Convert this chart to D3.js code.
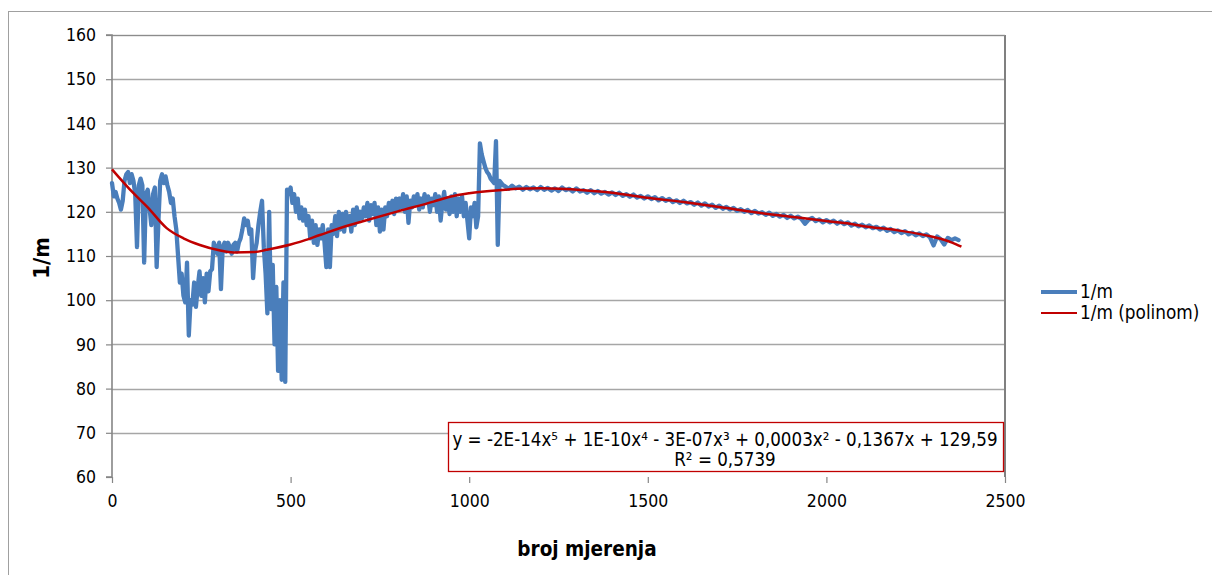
<!DOCTYPE html>
<html><head><meta charset="utf-8">
<script src="https://cdn.jsdelivr.net/npm/d3@7"></script>
<style>
html,body{margin:0;padding:0;background:#fff;}
svg{display:block;}
text{font-family:"DejaVu Sans Condensed","DejaVu Sans",sans-serif;font-stretch:condensed;fill:#000;}
</style></head><body>
<svg id="c" width="1212" height="575"></svg>
<script>
// ---- data ----
const xTicks = [0, 500, 1000, 1500, 2000, 2500];
const yTicks = [60, 70, 80, 90, 100, 110, 120, 130, 140, 150, 160];
const seriesName = "1/m";
const trendName = "1/m (polinom)";
const xTitle = "broj mjerenja";
const yTitle = "1/m";
const equationText = "y = -2E-14x\u2075 + 1E-10x\u2074 - 3E-07x\u00B3 + 0,0003x\u00B2 - 0,1367x + 129,59";
const r2Text = "R\u00B2 = 0,5739";

// measured series, part A: x = 0, 5, 10, ... 1095
const measStartA = 0, measStepA = 5;
const measA = [
126.5,123.5,124.5,123,122,120.5,122.5,127,128.5,129,126.5,128.5,127,124,112,126,127.5,126,108.5,124,
125,121,117,124,125.5,107.5,118,127,128.5,126.5,128,126,124.5,122,123,119,116,110,104,106,
101,99.5,108.5,92,100,99,104,98.5,103,106.5,101,105,99.5,106,102,106.5,107,113,112,110.5,
113,102.5,112,113,111,113,112,110.5,112.5,113,111,113,114,116,118.5,117,118,115,116,105,
111,113,117,120,122.5,112,106,97,120,98,108,90,103,84,100,82,104,81.5,125,124,
125.5,122,124,120,123,118.5,121,118,120.5,117,119,114,118,113,117,112.5,116,114,117,113,
107.5,116,107.5,117,115,119,114.5,120,116,119.5,115.5,120,117,119,115.5,120.5,117,121,118,120,
118.5,121,119,122,118,121.5,119.5,122,117,121,115.5,120.5,116,121,119,122,120,122.5,119.5,123,
120.5,123,121,124,120,123.5,117.5,122.5,121,123.5,121.5,124,120.5,123,121,124,122,123.5,120,123,
121.5,124,120,123.5,118,122,124.5,120.5,123,119.5,123.5,120,124,119,123,120,123.5,119,122,118,
114,121,119,122,116.5,119,135.5,133,131.5,130,129,128.5,127.5,127,126.5,136,112.5,127,126.5,126
];
// measured series, part B: x = 1100, 1110, ... 2370
const measStartB = 1100, measStepB = 10;
const measB = [
125.8,125.2,125.9,125.3,125.7,125.0,125.6,125.1,125.5,124.9,
125.6,125.0,125.4,124.8,125.3,124.7,125.5,124.9,125.2,124.6,
125.3,124.6,124.9,124.3,124.9,124.2,124.7,124.1,124.5,123.9,
124.4,123.8,124.3,123.6,124.0,123.4,123.9,123.2,123.6,123.0,
123.5,122.9,123.3,122.6,123.1,122.5,122.9,122.2,122.6,122.0,
122.5,121.9,122.2,121.6,122.1,121.4,121.9,121.2,121.6,120.9,
121.4,120.7,121.1,120.5,120.9,120.2,120.6,120.0,120.4,119.7,
120.2,119.6,119.9,119.3,119.8,119.1,119.5,118.9,119.3,118.6,
119.1,118.5,118.9,118.4,117.3,118.2,118.6,117.9,118.3,117.6,
118.1,117.6,118.0,117.3,117.8,117.2,117.6,116.9,117.3,116.7,
117.1,116.5,116.9,116.3,116.6,116.0,116.4,115.7,116.1,115.4,
115.8,115.2,115.6,114.9,115.3,114.7,115.1,114.5,114.9,114.2,
112.4,114.4,113.8,112.6,114.1,113.6,114.0,113.6
];
// polynomial trendline
const trendX = [0,60,100,153,200,246,300,340,400,433,500,526,582,666,700,800,900,946,1000,1100,1133,1200,1320,1366,1400,1506,1600,1716,1800,1900,2000,2066,2100,2200,2300,2350,2378];
const trendY = [129.6,124.2,121.0,116.3,114.0,112.5,111.3,110.8,110.9,111.4,112.6,113.2,114.75,117.0,117.8,120.1,122.3,123.4,124.2,125.0,125.2,125.3,124.9,124.6,124.3,123.1,122.2,120.9,119.9,118.9,117.9,117.3,116.8,115.8,114.3,113.1,112.1];

// ---- build ----
const meas = measA.map((v,i)=>({x:measStartA+i*measStepA, y:v}))
  .concat(measB.map((v,i)=>({x:measStartB+i*measStepB, y:v})));
const trend = trendX.map((x,i)=>({x:x, y:trendY[i]}));

const svg = d3.select("#c");
const L=112, R=1005, T=35, B=477;
const x = d3.scaleLinear().domain([0,2500]).range([L,R]);
const y = d3.scaleLinear().domain([60,160]).range([B,T]);

// outer chart border
svg.append("rect").attr("x",8.5).attr("y",11.5).attr("width",1220).attr("height",580)
  .attr("fill","none").attr("stroke","#a0a0a0").attr("stroke-width",1);

// gridlines
svg.append("g").selectAll("line").data(yTicks.filter(d=>d>60)).join("line")
  .attr("x1",L).attr("x2",R).attr("y1",d=>Math.round(y(d))+0.5).attr("y2",d=>Math.round(y(d))+0.5)
  .attr("stroke","#a6a6a6").attr("stroke-width",1.4);

// plot right border
svg.append("line").attr("x1",R).attr("x2",R).attr("y1",T).attr("y2",B)
  .attr("stroke","#808080").attr("stroke-width",2);
svg.append("line").attr("x1",L).attr("x2",R).attr("y1",T+0.5).attr("y2",T+0.5)
  .attr("stroke","#8c8c8c").attr("stroke-width",1.2);

// axes
const yAxis = d3.axisLeft(y).tickValues(yTicks).tickSize(6).tickPadding(10).tickFormat(d3.format("d"));
const gy = svg.append("g").attr("transform",`translate(${L},0)`).call(yAxis);
const xAxis = d3.axisBottom(x).tickValues(xTicks).tickSize(6).tickPadding(12).tickFormat(d3.format("d"));
const gx = svg.append("g").attr("transform",`translate(0,${B})`).call(xAxis);
[gx,gy].forEach(g=>{
  g.select(".domain").attr("stroke","#868686").attr("stroke-width",1.6);
  g.selectAll(".tick line").attr("stroke","#868686").attr("stroke-width",1.2);
  g.selectAll(".tick text").attr("font-size",17.5).attr("fill","#000")
    .style("font-family",'"DejaVu Sans Condensed","DejaVu Sans",sans-serif');
});
gy.select(".domain").attr("d",`M-6,${B}H0V${T}H-6`);
gx.select(".domain").attr("d",`M${L},${B}H${R}`);

// series
const line = d3.line().x(d=>x(d.x)).y(d=>y(d.y));
svg.append("path").datum(meas).attr("d",line).attr("fill","none")
  .attr("stroke","#4a7ebb").attr("stroke-width",4.3).attr("stroke-linejoin","round").attr("stroke-linecap","round");
const tline = d3.line().x(d=>x(d.x)).y(d=>y(d.y)).curve(d3.curveMonotoneX);
svg.append("path").datum(trend).attr("d",tline).attr("fill","none")
  .attr("stroke","#c00000").attr("stroke-width",2.5);

// equation box
const eq = svg.append("g");
eq.append("rect").attr("x",448.5).attr("y",422.5).attr("width",555).attr("height",49)
  .attr("fill","#fff").attr("stroke","#c00000").attr("stroke-width",1.3);
eq.append("text").attr("x",725).attr("y",446).attr("text-anchor","middle").attr("font-size",18.6).text(equationText);
eq.append("text").attr("x",725).attr("y",466).attr("text-anchor","middle").attr("font-size",18.6).text(r2Text);

// axis titles
svg.append("text").attr("x",587).attr("y",556).attr("text-anchor","middle")
  .attr("font-size",20.5).attr("font-weight","bold").text(xTitle);
svg.append("text").attr("transform","translate(49,258) rotate(-90)").attr("text-anchor","middle")
  .attr("font-size",22).attr("font-weight","bold").text(yTitle);

// legend
const lg = svg.append("g");
lg.append("line").attr("x1",1041).attr("x2",1077).attr("y1",292).attr("y2",292)
  .attr("stroke","#4a7ebb").attr("stroke-width",4);
lg.append("text").attr("x",1080).attr("y",298).attr("font-size",18.8).text(seriesName);
lg.append("line").attr("x1",1041).attr("x2",1077).attr("y1",313).attr("y2",313)
  .attr("stroke","#c00000").attr("stroke-width",2.2);
lg.append("text").attr("x",1080).attr("y",319).attr("font-size",18.8).text(trendName);
</script>
</body></html>
